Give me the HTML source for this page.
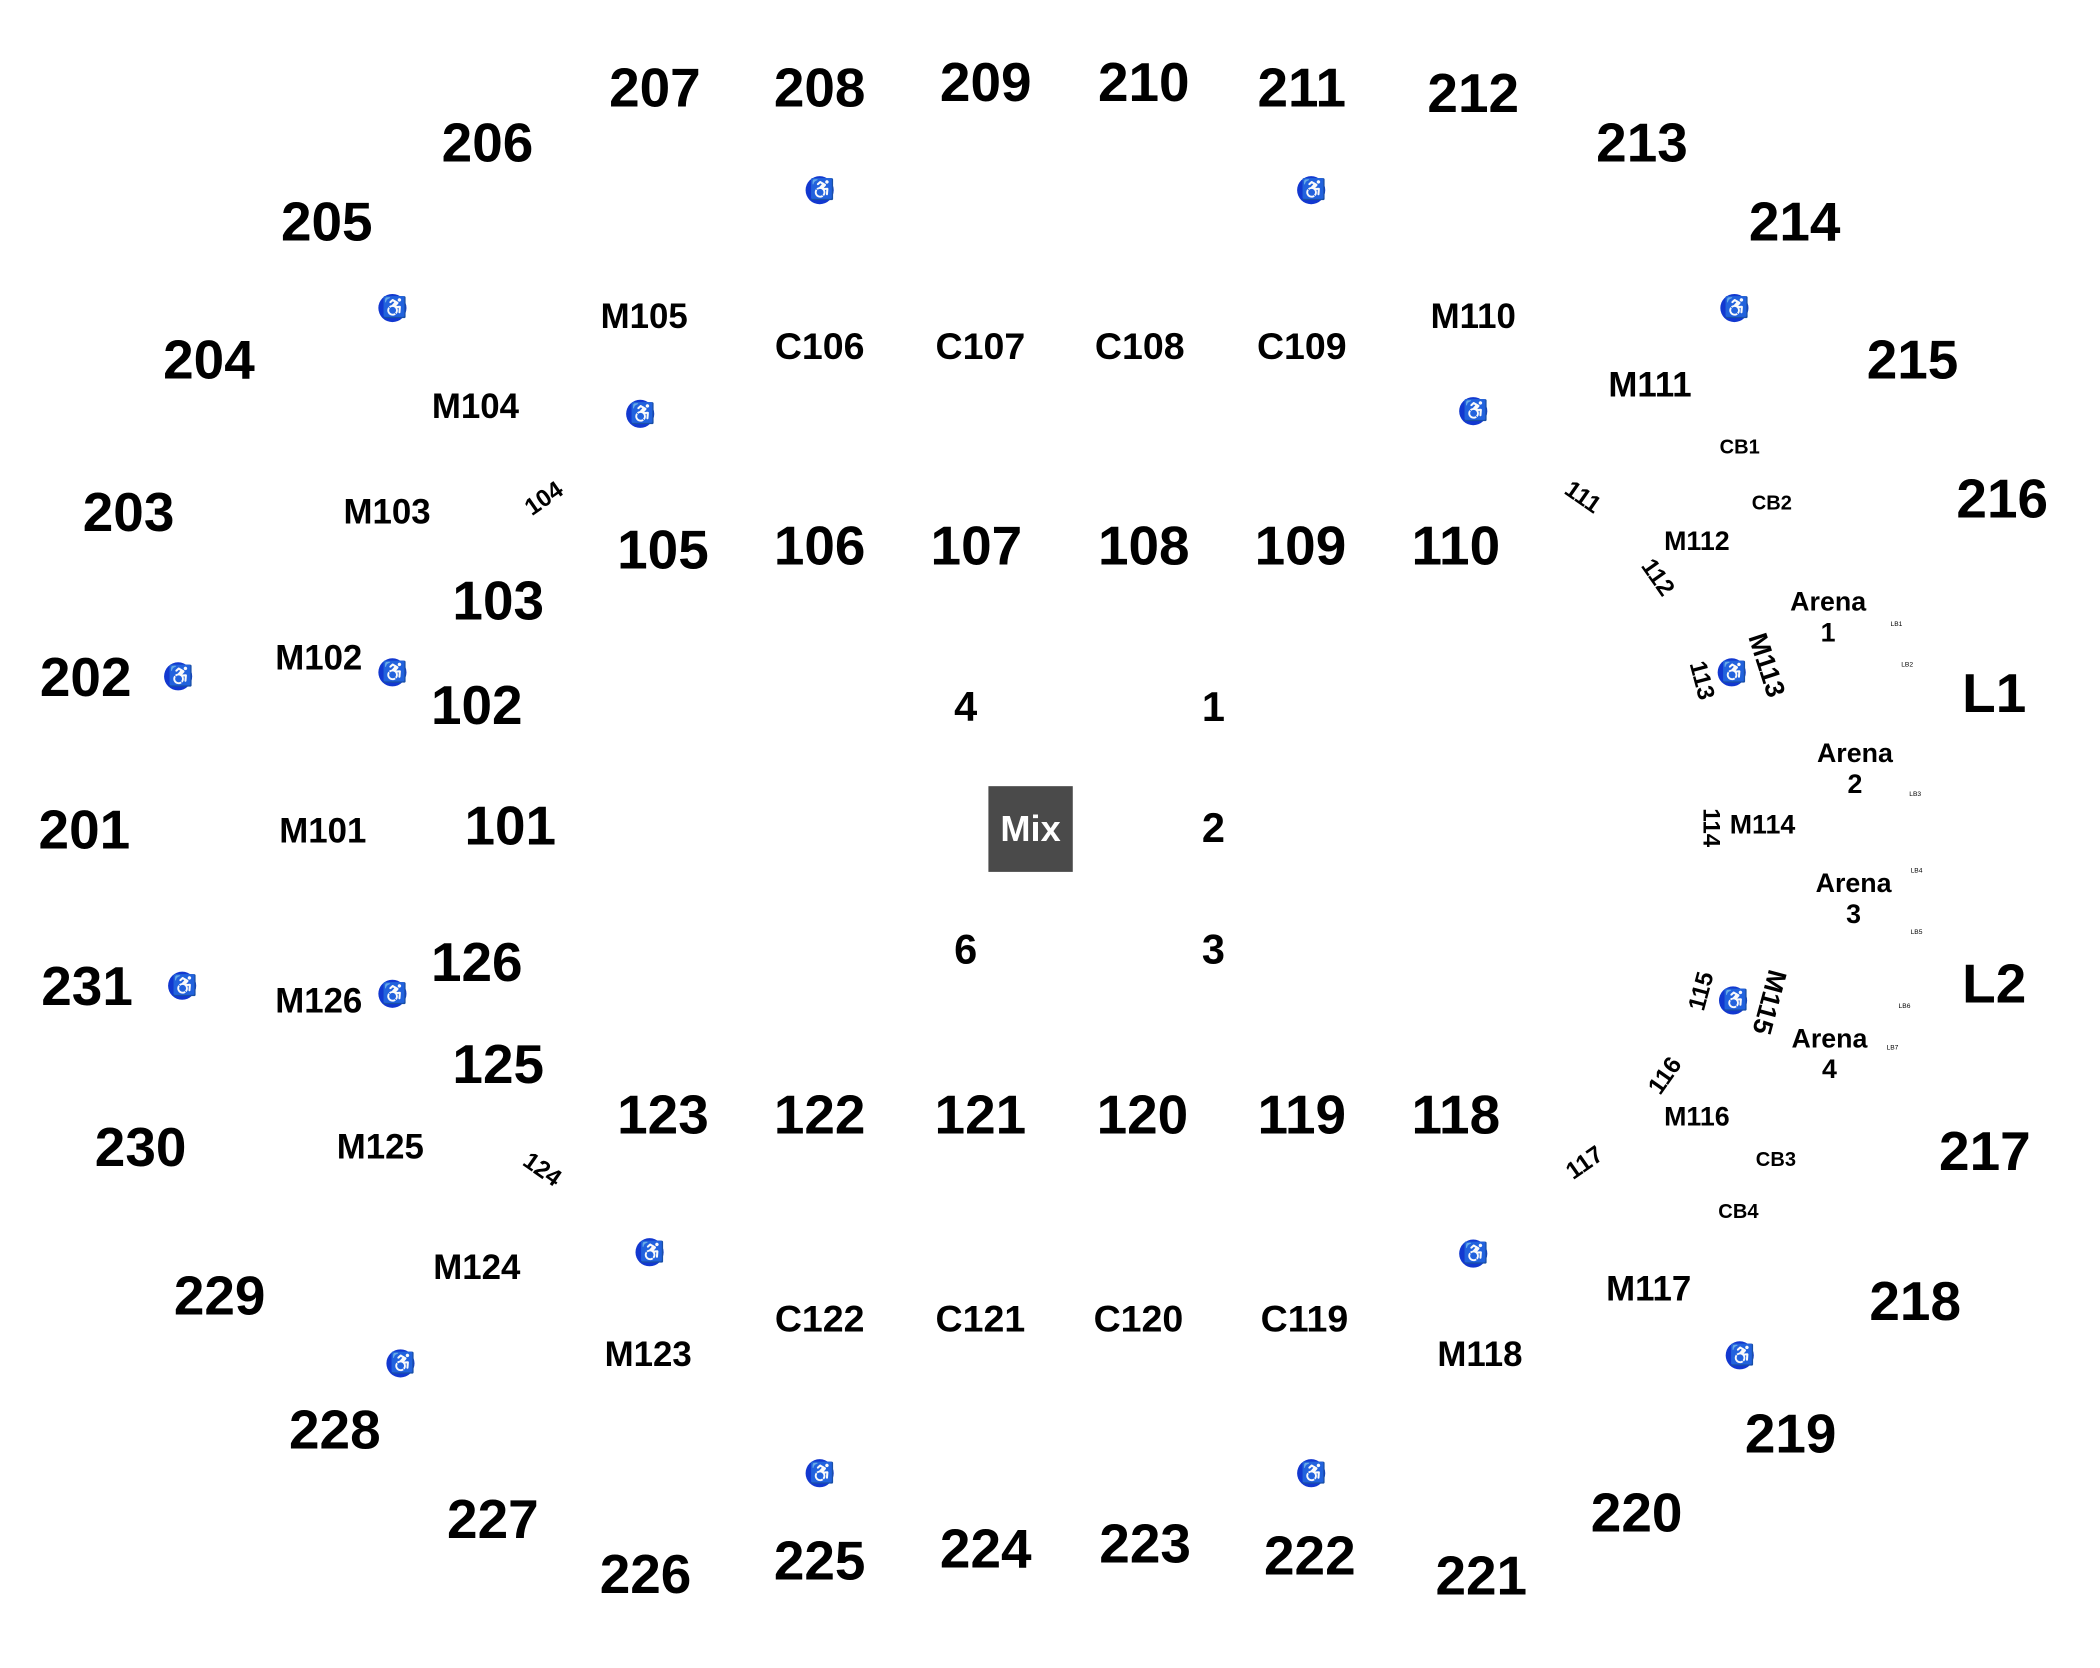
<!DOCTYPE html>
<html><head><meta charset="utf-8"><style>
html,body{margin:0;padding:0;background:#fff;}
body{width:2100px;height:1668px;overflow:hidden;position:relative;}
#c{position:absolute;left:0;top:0;width:1568px;height:1245px;transform:scale(1.3393);transform-origin:0 0;font-family:"Liberation Sans",sans-serif;font-weight:bold;color:#000;}
#c div{position:absolute;transform:translate(-50%,-50%);white-space:nowrap;line-height:1;text-align:center;}
.b{font-size:41px;}
.m{font-size:26px;}
.c{font-size:28px;}
.i{font-size:31px;}
.cb{font-size:15px;}
.ar{font-size:20px;line-height:1.15 !important;}
.lb{font-size:5px;font-weight:normal;}
.r{font-size:18px;}
.w{width:21px;height:21px;border-radius:50%;background:#1238d0;}
.w::after{content:"♿";color:#fff;font-size:15px;position:absolute;left:3px;top:3px;font-weight:normal;}
#c #mix{position:absolute;left:738px;top:587px;width:63px;height:64px;background:#4a4a4a;color:#fff;font-size:27px;line-height:64px !important;text-align:center;transform:none;}
</style></head><body><div id="c">
<div class="b" style="left:489px;top:66px">207</div>
<div class="b" style="left:612px;top:66px">208</div>
<div class="b" style="left:736px;top:62px">209</div>
<div class="b" style="left:854px;top:62px">210</div>
<div class="b" style="left:972px;top:66px">211</div>
<div class="b" style="left:1100px;top:70px">212</div>
<div class="b" style="left:1226px;top:107px">213</div>
<div class="b" style="left:1340px;top:166px">214</div>
<div class="b" style="left:1428px;top:269px">215</div>
<div class="b" style="left:1495px;top:373px">216</div>
<div class="b" style="left:1489px;top:518px">L1</div>
<div class="b" style="left:1489px;top:735px">L2</div>
<div class="b" style="left:1482px;top:860px">217</div>
<div class="b" style="left:1430px;top:972px">218</div>
<div class="b" style="left:1337px;top:1071px">219</div>
<div class="b" style="left:1222px;top:1130px">220</div>
<div class="b" style="left:1106px;top:1177px">221</div>
<div class="b" style="left:978px;top:1162px">222</div>
<div class="b" style="left:855px;top:1153px">223</div>
<div class="b" style="left:736px;top:1157px">224</div>
<div class="b" style="left:612px;top:1166px">225</div>
<div class="b" style="left:482px;top:1176px">226</div>
<div class="b" style="left:368px;top:1135px">227</div>
<div class="b" style="left:250px;top:1068px">228</div>
<div class="b" style="left:164px;top:968px">229</div>
<div class="b" style="left:105px;top:857px">230</div>
<div class="b" style="left:65px;top:737px">231</div>
<div class="b" style="left:63px;top:620px">201</div>
<div class="b" style="left:64px;top:506px">202</div>
<div class="b" style="left:96px;top:383px">203</div>
<div class="b" style="left:156px;top:269px">204</div>
<div class="b" style="left:244px;top:166px">205</div>
<div class="b" style="left:364px;top:107px">206</div>
<div class="b" style="left:495px;top:411px">105</div>
<div class="b" style="left:612px;top:408px">106</div>
<div class="b" style="left:729px;top:408px">107</div>
<div class="b" style="left:854px;top:408px">108</div>
<div class="b" style="left:971px;top:408px">109</div>
<div class="b" style="left:1087px;top:408px">110</div>
<div class="b" style="left:372px;top:449px">103</div>
<div class="b" style="left:356px;top:527px">102</div>
<div class="b" style="left:381px;top:617px">101</div>
<div class="b" style="left:356px;top:719px">126</div>
<div class="b" style="left:372px;top:795px">125</div>
<div class="b" style="left:495px;top:833px">123</div>
<div class="b" style="left:612px;top:833px">122</div>
<div class="b" style="left:732px;top:833px">121</div>
<div class="b" style="left:853px;top:833px">120</div>
<div class="b" style="left:972px;top:833px">119</div>
<div class="b" style="left:1087px;top:833px">118</div>
<div class="m" style="left:481px;top:236px">M105</div>
<div class="m" style="left:355px;top:303px">M104</div>
<div class="m" style="left:289px;top:382px">M103</div>
<div class="m" style="left:238px;top:491px">M102</div>
<div class="m" style="left:241px;top:620px">M101</div>
<div class="m" style="left:238px;top:747px">M126</div>
<div class="m" style="left:284px;top:856px">M125</div>
<div class="m" style="left:356px;top:946px">M124</div>
<div class="m" style="left:484px;top:1011px">M123</div>
<div class="m" style="left:1100px;top:236px">M110</div>
<div class="m" style="left:1232px;top:287px">M111</div>
<div class="m" style="left:1231px;top:962px">M117</div>
<div class="m" style="left:1105px;top:1011px">M118</div>
<div class="ar" style="left:1267px;top:405px">M112</div>
<div class="ar" style="left:1267px;top:835px">M116</div>
<div class="ar" style="left:1316px;top:617px">M114</div>
<div class="c" style="left:612px;top:259px">C106</div>
<div class="c" style="left:732px;top:259px">C107</div>
<div class="c" style="left:851px;top:259px">C108</div>
<div class="c" style="left:972px;top:259px">C109</div>
<div class="c" style="left:612px;top:985px">C122</div>
<div class="c" style="left:732px;top:985px">C121</div>
<div class="c" style="left:850px;top:985px">C120</div>
<div class="c" style="left:974px;top:985px">C119</div>
<div class="i" style="left:721px;top:528px">4</div>
<div class="i" style="left:906px;top:528px">1</div>
<div class="i" style="left:906px;top:618px">2</div>
<div class="i" style="left:906px;top:709px">3</div>
<div class="i" style="left:721px;top:709px">6</div>
<div id="mix">Mix</div>
<div class="cb" style="left:1299px;top:334px">CB1</div>
<div class="cb" style="left:1323px;top:376px">CB2</div>
<div class="cb" style="left:1326px;top:866px">CB3</div>
<div class="cb" style="left:1298px;top:905px">CB4</div>
<div class="ar" style="left:1365px;top:462px">Arena<br>1</div>
<div class="ar" style="left:1385px;top:575px">Arena<br>2</div>
<div class="ar" style="left:1384px;top:672px">Arena<br>3</div>
<div class="ar" style="left:1366px;top:788px">Arena<br>4</div>
<div class="lb" style="left:1416px;top:467px">LB1</div>
<div class="lb" style="left:1424px;top:497px">LB2</div>
<div class="lb" style="left:1430px;top:594px">LB3</div>
<div class="lb" style="left:1431px;top:651px">LB4</div>
<div class="lb" style="left:1431px;top:697px">LB5</div>
<div class="lb" style="left:1422px;top:752px">LB6</div>
<div class="lb" style="left:1413px;top:783px">LB7</div>
<div class="r" style="left:406px;top:372px;transform:translate(-50%,-50%) rotate(-35deg)">104</div>
<div class="r" style="left:405px;top:873px;transform:translate(-50%,-50%) rotate(35deg)">124</div>
<div class="r" style="left:1182px;top:371px;transform:translate(-50%,-50%) rotate(35deg)">111</div>
<div class="r" style="left:1238px;top:431px;transform:translate(-50%,-50%) rotate(55deg)">112</div>
<div class="r" style="left:1271px;top:508px;transform:translate(-50%,-50%) rotate(75deg)">113</div>
<div class="ar" style="left:1318px;top:497px;transform:translate(-50%,-50%) rotate(72deg)">M113</div>
<div class="r" style="left:1278px;top:618px;transform:translate(-50%,-50%) rotate(90deg)">114</div>
<div class="r" style="left:1270px;top:740px;transform:translate(-50%,-50%) rotate(-75deg)">115</div>
<div class="ar" style="left:1320px;top:748px;transform:translate(-50%,-50%) rotate(105deg)">M115</div>
<div class="r" style="left:1243px;top:803px;transform:translate(-50%,-50%) rotate(-55deg)">116</div>
<div class="r" style="left:1183px;top:868px;transform:translate(-50%,-50%) rotate(-35deg)">117</div>
<div class="w" style="left:612px;top:142px"></div>
<div class="w" style="left:979px;top:142px"></div>
<div class="w" style="left:293px;top:230px"></div>
<div class="w" style="left:1295px;top:230px"></div>
<div class="w" style="left:478px;top:309px"></div>
<div class="w" style="left:1100px;top:307px"></div>
<div class="w" style="left:133px;top:505px"></div>
<div class="w" style="left:293px;top:502px"></div>
<div class="w" style="left:1293px;top:502px"></div>
<div class="w" style="left:136px;top:736px"></div>
<div class="w" style="left:293px;top:742px"></div>
<div class="w" style="left:1294px;top:747px"></div>
<div class="w" style="left:485px;top:935px"></div>
<div class="w" style="left:1100px;top:936px"></div>
<div class="w" style="left:299px;top:1018px"></div>
<div class="w" style="left:1299px;top:1012px"></div>
<div class="w" style="left:612px;top:1100px"></div>
<div class="w" style="left:979px;top:1100px"></div>
</div></body></html>
